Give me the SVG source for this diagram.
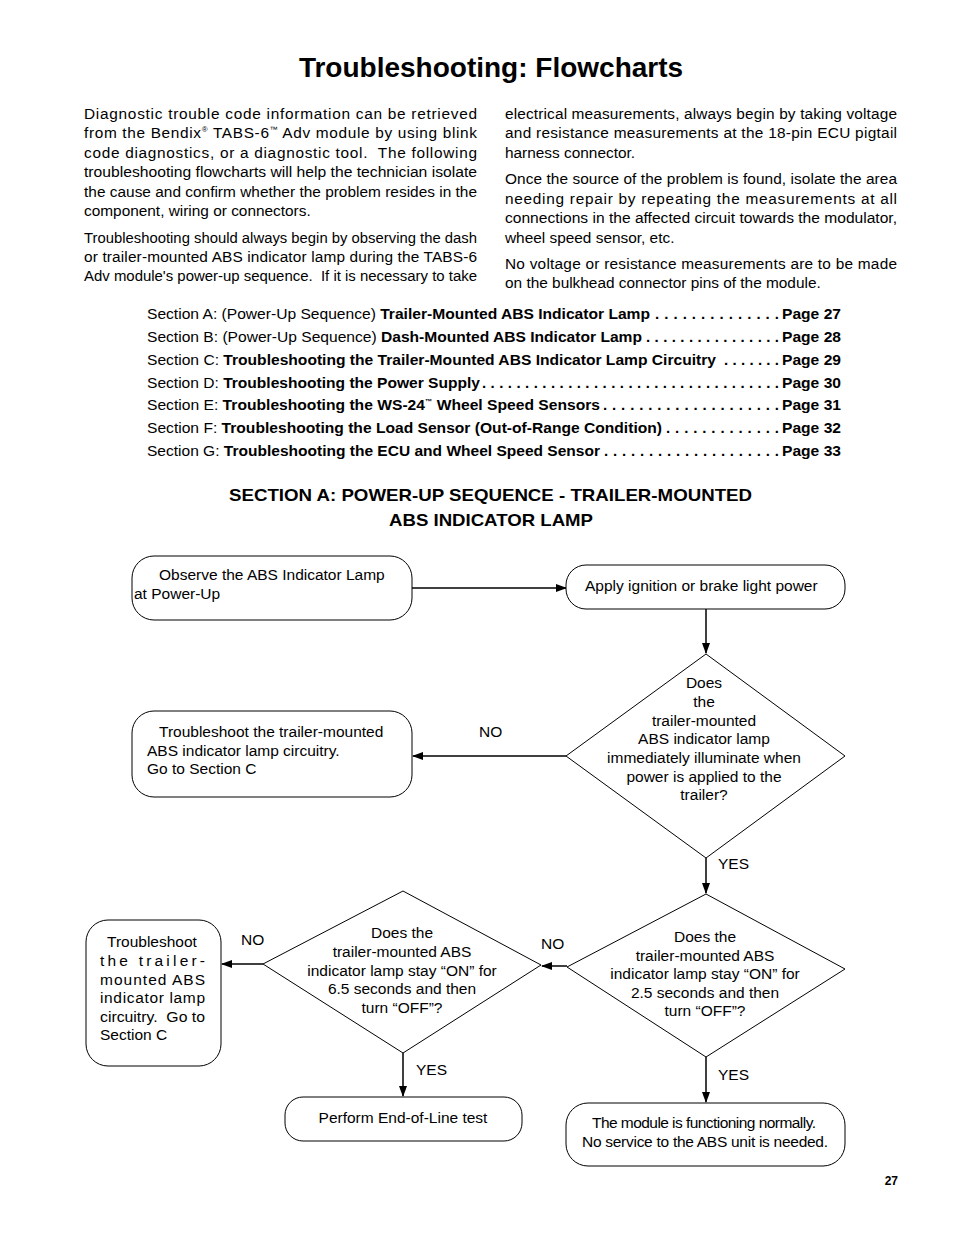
<svg xmlns="http://www.w3.org/2000/svg" width="954" height="1235" viewBox="0 0 954 1235">
<style>
text{font-family:"Liberation Sans",Arial,sans-serif;fill:#000;white-space:pre}
.body{font-size:15.4px}
.toc{font-size:15px}
.b{font-weight:bold}
.fc{font-size:15.5px}
.mid{text-anchor:middle}
.box{fill:#fff;stroke:#000;stroke-width:1}
.con{fill:none;stroke:#000;stroke-width:1.5}
</style>
<defs>
<marker id="ah" markerUnits="userSpaceOnUse" markerWidth="11" markerHeight="8" refX="10" refY="4" orient="auto">
<path d="M0,0 L11,4 L0,8 z" fill="#000"/>
</marker>
</defs>
<rect width="954" height="1235" fill="#fff"/>

<text x="491" y="77" class="b mid" font-size="28">Troubleshooting: Flowcharts</text>

<g id="intro-left" class="body">
<text x="84" y="119" textLength="393" lengthAdjust="spacing">Diagnostic trouble code information can be retrieved</text>
<text x="84" y="138" textLength="393" lengthAdjust="spacing">from the Bendix<tspan font-size="8" dy="-6">®</tspan><tspan dy="6"> TABS-6</tspan><tspan font-size="8" dy="-6">™</tspan><tspan dy="6"> Adv module by using blink</tspan></text>
<text x="84" y="158" textLength="393" lengthAdjust="spacing">code diagnostics, or a diagnostic tool.  The following</text>
<text x="84" y="177" textLength="393" lengthAdjust="spacingAndGlyphs">troubleshooting flowcharts will help the technician isolate</text>
<text x="84" y="197" textLength="393" lengthAdjust="spacing">the cause and confirm whether the problem resides in the</text>
<text x="84" y="216">component, wiring or connectors.</text>
<text x="84" y="243" textLength="393" lengthAdjust="spacingAndGlyphs">Troubleshooting should always begin by observing the dash</text>
<text x="84" y="262" textLength="393" lengthAdjust="spacing">or trailer-mounted ABS indicator lamp during the TABS-6</text>
<text x="84" y="281" textLength="393" lengthAdjust="spacingAndGlyphs">Adv module's power-up sequence.  If it is necessary to take</text>
</g>

<g id="intro-right" class="body">
<text x="505" y="119" textLength="392" lengthAdjust="spacing">electrical measurements, always begin by taking voltage</text>
<text x="505" y="138" textLength="392" lengthAdjust="spacing">and resistance measurements at the 18-pin ECU pigtail</text>
<text x="505" y="158">harness connector.</text>
<text x="505" y="184" textLength="392" lengthAdjust="spacing">Once the source of the problem is found, isolate the area</text>
<text x="505" y="204" textLength="392" lengthAdjust="spacing">needing repair by repeating the measurements at all</text>
<text x="505" y="223" textLength="392" lengthAdjust="spacingAndGlyphs">connections in the affected circuit towards the modulator,</text>
<text x="505" y="243">wheel speed sensor, etc.</text>
<text x="505" y="269" textLength="392" lengthAdjust="spacing">No voltage or resistance measurements are to be made</text>
<text x="505" y="288">on the bulkhead connector pins of the module.</text>
</g>

<g id="toc" class="toc">
<text x="147" y="319" textLength="503" lengthAdjust="spacingAndGlyphs">Section A: (Power-Up Sequence) <tspan class="b">Trailer-Mounted ABS Indicator Lamp</tspan></text>
<text x="655" y="319" class="b" textLength="124" lengthAdjust="spacing">. . . . . . . . . . . . . .</text>
<text x="841" y="319" class="b" text-anchor="end" textLength="59" lengthAdjust="spacingAndGlyphs">Page 27</text>

<text x="147" y="342" textLength="495" lengthAdjust="spacingAndGlyphs">Section B: (Power-Up Sequence) <tspan class="b">Dash-Mounted ABS Indicator Lamp</tspan></text>
<text x="646" y="342" class="b" textLength="133" lengthAdjust="spacing">. . . . . . . . . . . . . . . .</text>
<text x="841" y="342" class="b" text-anchor="end" textLength="59" lengthAdjust="spacingAndGlyphs">Page 28</text>

<text x="147" y="365" textLength="569" lengthAdjust="spacingAndGlyphs">Section C: <tspan class="b">Troubleshooting the Trailer-Mounted ABS Indicator Lamp Circuitry</tspan></text>
<text x="724" y="365" class="b" textLength="55" lengthAdjust="spacing">. . . . . . .</text>
<text x="841" y="365" class="b" text-anchor="end" textLength="59" lengthAdjust="spacingAndGlyphs">Page 29</text>

<text x="147" y="388" textLength="333" lengthAdjust="spacingAndGlyphs">Section D: <tspan class="b">Troubleshooting the Power Supply</tspan></text>
<text x="482" y="388" class="b" textLength="297" lengthAdjust="spacing">. . . . . . . . . . . . . . . . . . . . . . . . . . . . . . . . . . .</text>
<text x="841" y="388" class="b" text-anchor="end" textLength="59" lengthAdjust="spacingAndGlyphs">Page 30</text>

<text x="147" y="410" textLength="453" lengthAdjust="spacingAndGlyphs">Section E: <tspan class="b">Troubleshooting the WS-24<tspan font-size="7" dy="-6">™</tspan><tspan dy="6"> Wheel Speed Sensors</tspan></tspan></text>
<text x="603" y="410" class="b" textLength="176" lengthAdjust="spacing">. . . . . . . . . . . . . . . . . . . .</text>
<text x="841" y="410" class="b" text-anchor="end" textLength="59" lengthAdjust="spacingAndGlyphs">Page 31</text>

<text x="147" y="433" textLength="515" lengthAdjust="spacingAndGlyphs">Section F: <tspan class="b">Troubleshooting the Load Sensor (Out-of-Range Condition)</tspan></text>
<text x="666" y="433" class="b" textLength="113" lengthAdjust="spacing">. . . . . . . . . . . . .</text>
<text x="841" y="433" class="b" text-anchor="end" textLength="59" lengthAdjust="spacingAndGlyphs">Page 32</text>

<text x="147" y="456" textLength="453" lengthAdjust="spacingAndGlyphs">Section G: <tspan class="b">Troubleshooting the ECU and Wheel Speed Sensor</tspan></text>
<text x="604" y="456" class="b" textLength="175" lengthAdjust="spacing">. . . . . . . . . . . . . . . . . . . .</text>
<text x="841" y="456" class="b" text-anchor="end" textLength="59" lengthAdjust="spacingAndGlyphs">Page 33</text>
</g>

<g id="section-heading" class="b" font-size="17">
<text x="229" y="501" textLength="523" lengthAdjust="spacingAndGlyphs">SECTION A: POWER-UP SEQUENCE - TRAILER-MOUNTED</text>
<text x="389" y="526" textLength="204" lengthAdjust="spacingAndGlyphs">ABS INDICATOR LAMP</text>
</g>

<g id="connectors">
<line class="con" x1="412" y1="588" x2="566" y2="588" stroke-width="2" marker-end="url(#ah)"/>
<line class="con" x1="706" y1="609" x2="706" y2="653" marker-end="url(#ah)"/>
<line class="con" x1="566" y1="756" x2="413" y2="756" marker-end="url(#ah)"/>
<line class="con" x1="706" y1="858" x2="706" y2="893" marker-end="url(#ah)"/>
<line class="con" x1="567" y1="966" x2="542" y2="966" stroke-width="2" marker-end="url(#ah)"/>
<line class="con" x1="263" y1="964" x2="222" y2="964" stroke-width="2" marker-end="url(#ah)"/>
<line class="con" x1="403" y1="1053" x2="403" y2="1096" marker-end="url(#ah)"/>
<line class="con" x1="706" y1="1057" x2="706" y2="1102" marker-end="url(#ah)"/>
<g class="fc">
<text x="479" y="737">NO</text>
<text x="718" y="869">YES</text>
<text x="541" y="949">NO</text>
<text x="241" y="945">NO</text>
<text x="416" y="1075">YES</text>
<text x="718" y="1080">YES</text>
</g>
</g>

<g id="observe" class="fc">
<rect class="box" x="132" y="556" width="280" height="64" rx="22"/>
<text x="159" y="580">Observe the ABS Indicator Lamp</text>
<text x="134" y="599">at Power-Up</text>
</g>

<g id="apply-power" class="fc">
<rect class="box" x="566" y="565" width="279" height="44" rx="20"/>
<text x="585" y="591">Apply ignition or brake light power</text>
</g>

<g id="q-illuminate" class="fc mid">
<polygon class="box" points="706,654 845,756 706,858 566,756"/>
<text x="704" y="688">Does</text>
<text x="704" y="707">the</text>
<text x="704" y="726">trailer-mounted</text>
<text x="704" y="744">ABS indicator lamp</text>
<text x="704" y="763">immediately illuminate when</text>
<text x="704" y="782">power is applied to the</text>
<text x="704" y="800">trailer?</text>
</g>

<g id="goto-c-1" class="fc">
<rect class="box" x="132" y="711" width="280" height="86" rx="22"/>
<text x="159" y="737">Troubleshoot the trailer-mounted</text>
<text x="147" y="756">ABS indicator lamp circuitry.</text>
<text x="147" y="774">Go to Section C</text>
</g>

<g id="q-2-5s" class="fc mid">
<polygon class="box" points="706,894 845,969 706,1057 567,967"/>
<text x="705" y="942">Does the</text>
<text x="705" y="961">trailer-mounted ABS</text>
<text x="705" y="979">indicator lamp stay “ON” for</text>
<text x="705" y="998">2.5 seconds and then</text>
<text x="705" y="1016">turn “OFF”?</text>
</g>

<g id="q-6-5s" class="fc mid">
<polygon class="box" points="403,891 541,965 403,1053 263,964"/>
<text x="402" y="938">Does the</text>
<text x="402" y="957">trailer-mounted ABS</text>
<text x="402" y="976">indicator lamp stay “ON” for</text>
<text x="402" y="994">6.5 seconds and then</text>
<text x="402" y="1013">turn “OFF”?</text>
</g>

<g id="goto-c-2" class="fc">
<rect class="box" x="86" y="920" width="135" height="146" rx="22"/>
<text x="107" y="947">Troubleshoot</text>
<text x="100" y="966" textLength="105" lengthAdjust="spacing">the trailer-</text>
<text x="100" y="985" textLength="105" lengthAdjust="spacing">mounted ABS</text>
<text x="100" y="1003" textLength="105" lengthAdjust="spacing">indicator lamp</text>
<text x="100" y="1022" textLength="105" lengthAdjust="spacingAndGlyphs">circuitry.  Go to</text>
<text x="100" y="1040">Section C</text>
</g>

<g id="end-of-line" class="fc mid">
<rect class="box" x="285" y="1097" width="237" height="44" rx="18"/>
<text x="403" y="1123">Perform End-of-Line test</text>
</g>

<g id="normal" class="fc">
<rect class="box" x="566" y="1103" width="279" height="63" rx="22"/>
<text x="592" y="1128" textLength="224" lengthAdjust="spacing">The module is functioning normally.</text>
<text x="582" y="1147" textLength="246" lengthAdjust="spacing">No service to the ABS unit is needed.</text>
</g>

<text x="898" y="1185" class="b" font-size="12" text-anchor="end">27</text>
</svg>
